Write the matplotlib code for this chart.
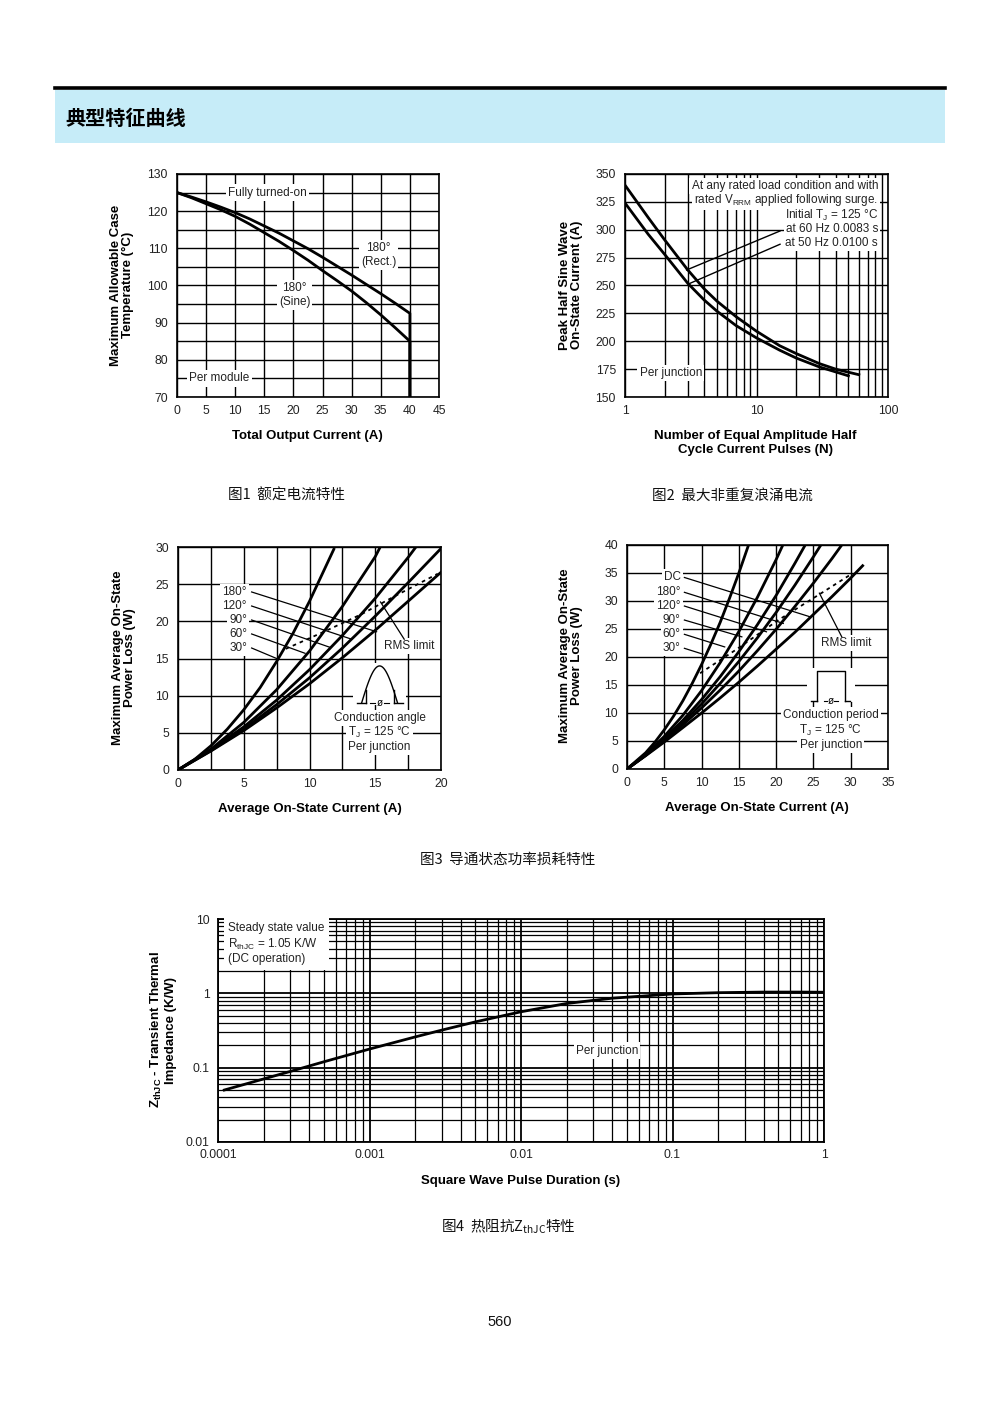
import numpy as np
import matplotlib
matplotlib.use('Agg')
import matplotlib.pyplot as plt
from matplotlib.patches import Rectangle
from matplotlib.lines import Line2D

plt.rcParams['font.family'] = ['Liberation Sans', 'Noto Sans CJK SC', 'DejaVu Sans']
plt.rcParams['mathtext.fontset'] = 'custom'
plt.rcParams['mathtext.rm'] = 'Liberation Sans'
plt.rcParams['mathtext.it'] = 'Liberation Sans:italic'
plt.rcParams['mathtext.bf'] = 'Liberation Sans:bold'

# ---------------- data ----------------
# Fig 1: max allowable case temperature vs total output current
fig1_current = [0, 2.5, 5, 7.5, 10, 12.5, 15, 17.5, 20, 22.5, 25, 27.5, 30, 32.5, 35, 37.5, 40, 40]
fig1_rect = [125, 123.8, 122.5, 121.1, 119.6, 117.9, 116, 114.1, 112, 109.9, 107.6, 105.2,
             102.8, 100.3, 97.8, 95.2, 92.5, 70]
fig1_sine = [125, 123.6, 122, 120.4, 118.6, 116.5, 114.2, 111.9, 109.4, 106.8, 104, 101.3,
             98.5, 95.4, 92.1, 88.6, 85, 70]

# Fig 2: surge current vs number of pulses
fig2_n_60hz = [1, 1.5, 2, 3, 4, 5, 7, 10, 15, 20, 30, 40, 60]
fig2_i_60hz = [340, 311, 291, 264, 247, 236, 222, 209, 196, 189, 180, 175, 170]
fig2_n_50hz = [1, 1.5, 2, 3, 4, 5, 7, 10, 15, 20, 30, 50]
fig2_i_50hz = [324, 296, 278, 252, 237, 227, 214, 203, 192, 185, 177, 169]

# Fig 3: on-state power loss, sine (conduction angle)
fig3_labels = ['180°', '120°', '90°', '60°', '30°']
fig3_i = {
    '30°': [0, 1.25, 2.5, 3.75, 5, 6.25, 7.5, 8.75, 10, 11.85],
    '60°': [0, 2.5, 5, 7.5, 10, 12.5, 15, 15.35],
    '90°': [0, 2.5, 5, 7.5, 10, 12.5, 15, 17.5, 18.05],
    '120°': [0, 2.5, 5, 7.5, 10, 12.5, 15, 17.5, 20],
    '180°': [0, 2.5, 5, 7.5, 10, 12.5, 15, 17.5, 20],
}
fig3_p = {
    '30°': [0, 1.4, 3.25, 5.5, 8.1, 11.1, 14.6, 18.4, 22.7, 29.7],
    '60°': [0, 2.8, 6.4, 10.8, 16.0, 22.0, 28.7, 29.9],
    '90°': [0, 2.7, 5.8, 9.4, 13.5, 18.1, 23.1, 28.6, 29.9],
    '120°': [0, 2.6, 5.5, 8.8, 12.4, 16.4, 20.7, 25.2, 29.8],
    '180°': [0, 2.55, 5.3, 8.35, 11.6, 15.1, 18.8, 22.7, 26.6],
}
fig3_rms_i = [8.2, 11.1, 14.0, 16.5, 19.75]
fig3_rms_p = [16.3, 18.6, 21.0, 23.4, 26.4]

# Fig 4: on-state power loss, rectangular (conduction period)
fig4_labels = ['DC', '180°', '120°', '90°', '60°', '30°']
fig4_i = {
    '30°': [0, 2.5, 3.75, 5, 6.25, 7.5, 8.75, 10, 11.25, 12.5, 13.75, 15, 16.3],
    '60°': [0, 2.5, 5, 7.5, 10, 12.5, 15, 17.5, 20, 20.9],
    '90°': [0, 2.5, 5, 7.5, 10, 12.5, 15, 17.5, 20, 22.5, 23.9],
    '120°': [0, 2.5, 5, 7.5, 10, 12.5, 15, 17.5, 20, 22.5, 25, 26.0],
    '180°': [0, 2.5, 5, 7.5, 10, 12.5, 15, 17.5, 20, 22.5, 25, 27.5, 28.8],
    'DC': [0, 2.5, 5, 7.5, 10, 12.5, 15, 17.5, 20, 22.5, 25, 27.5, 30, 31.6],
}
fig4_p = {
    '30°': [0, 2.9, 4.8, 7.0, 9.45, 12.2, 15.3, 18.65, 22.3, 26.2, 30.5, 35.0, 40.0],
    '60°': [0, 2.62, 5.83, 9.6, 14.0, 19.0, 24.55, 30.7, 37.4, 40.0],
    '90°': [0, 2.52, 5.43, 8.7, 12.4, 16.5, 20.95, 25.8, 31.0, 36.7, 40.0],
    '120°': [0, 2.47, 5.24, 8.3, 11.6, 15.3, 19.2, 23.45, 27.96, 32.8, 37.9, 40.0],
    '180°': [0, 2.43, 5.05, 7.9, 10.9, 14.1, 17.5, 21.15, 24.96, 29.0, 33.2, 37.6, 40.0],
    'DC': [0, 2.37, 4.82, 7.4, 10.0, 12.7, 15.5, 18.4, 21.4, 24.4, 27.6, 30.8, 34.1, 36.3],
}
fig4_rms_i = [9.8, 14.5, 20.3, 25.7, 30.2]
fig4_rms_p = [17.1, 21.2, 26.6, 31.1, 34.9]

# Fig 5: transient thermal impedance
fig5_t = [1.1e-4, 2e-4, 3e-4, 5e-4, 1e-3, 2e-3, 3e-3, 5e-3, 1e-2, 2e-2, 4e-2, 0.1, 0.2, 0.4, 0.7, 1.0]
fig5_z = [0.05, 0.0705, 0.089, 0.12, 0.178, 0.259, 0.32, 0.413, 0.565, 0.73, 0.86, 0.98, 1.02,
          1.04, 1.04, 1.035]

# ---------------- figure ----------------
W, H = 1000, 1414
fig = plt.figure(figsize=(10, 14.14), dpi=100)
fig.patch.set_facecolor('white')


def fx(px):
    return px / W


def fy(py):
    return 1 - py / H


def add_ax(l, r, t, b):
    return fig.add_axes([fx(l), fy(b), fx(r) - fx(l), (b - t) / H])


TICK_FS = 8.7
LAB_FS = 9.5
TXT_FS = 8.5
CURVE_LW = 2.0
GRID_LW = 1.0
TXT_C = '#222222'


def style(ax):
    for s in ax.spines.values():
        s.set_linewidth(1.2)
        s.set_color('black')
    ax.tick_params(which='both', length=0, labelsize=TICK_FS, colors=TXT_C)
    ax.tick_params(axis='y', pad=6.5)
    ax.tick_params(axis='x', pad=5.5)
    ax.set_axisbelow(True)
    ax.grid(which='both', color='black', linewidth=GRID_LW)


def note(ax, x, y, s, ha='center', pad=1.5, **kw):
    # white backing box (drawn first) then the text itself on top
    ax.text(x, y, s, fontsize=TXT_FS, ha=ha, va='center', color='none', zorder=2.9,
            bbox=dict(facecolor='white', edgecolor='none', pad=pad), **kw)
    ax.text(x, y, s, fontsize=TXT_FS, ha=ha, va='center', color=TXT_C, zorder=3.1, **kw)


# header
fig.add_artist(Rectangle((fx(55), fy(143)), fx(945) - fx(55), (143 - 90) / H,
                         transform=fig.transFigure, facecolor='#C6ECF8', edgecolor='none'))
fig.add_artist(Line2D([fx(55), fx(945)], [fy(88), fy(88)], transform=fig.transFigure,
                      color='black', linewidth=2.6))
fig.text(fx(65), fy(118), '典型特征曲线', family=['Noto Sans CJK SC'], fontsize=14.5,
         fontweight='bold', ha='left', va='center')

# ---------------- Fig 1 ----------------
ax1 = add_ax(177, 439, 174, 397)
style(ax1)
ax1.set_xlim(0, 45)
ax1.set_ylim(70, 130)
ax1.set_xticks(range(0, 46, 5))
ax1.set_yticks(range(70, 131, 10))
ax1.set_yticks(range(75, 130, 10), minor=True)
ax1.plot(fig1_current, fig1_rect, color='black', lw=CURVE_LW, zorder=4)
ax1.plot(fig1_current, fig1_sine, color='black', lw=CURVE_LW, zorder=4)
note(ax1, 15.6, 125, 'Fully turned-on')
note(ax1, 7.3, 75, 'Per module')
note(ax1, 34.6, 108.2, '180°\n(Rect.)', linespacing=1.25)
note(ax1, 20.2, 97.5, '180°\n(Sine)', linespacing=1.25)
fig.text(fx(307), fy(436), 'Total Output Current (A)', fontsize=LAB_FS, fontweight='bold',
         ha='center', va='center')
fig.text(fx(122), fy(285), 'Maximum Allowable Case\nTemperature (°C)', fontsize=LAB_FS,
         fontweight='bold', ha='center', va='center', rotation=90, linespacing=1.1)

# ---------------- Fig 2 ----------------
ax2 = add_ax(625, 888, 174, 397)
style(ax2)
ax2.set_xscale('log')
ax2.set_xlim(1, 100)
ax2.set_ylim(150, 350)
ax2.set_xticks([1, 10, 100])
ax2.set_xticklabels(['1', '10', '100'])
ax2.set_xticks([k * d for d in (1, 10) for k in range(2, 10)], minor=True)
ax2.xaxis.set_minor_formatter(matplotlib.ticker.NullFormatter())
ax2.set_yticks(range(150, 351, 25))
ax2.plot(fig2_n_60hz, fig2_i_60hz, color='black', lw=CURVE_LW, zorder=4)
ax2.plot(fig2_n_50hz, fig2_i_50hz, color='black', lw=CURVE_LW, zorder=4)
note(ax2, 84, 339.2, 'At any rated load condition and with', ha='right')
note(ax2, 84, 326.7, 'rated V$_{\\rm RRM}$ applied following surge.', ha='right')
note(ax2, 84, 313.2, 'Initial T$_{\\rm J}$ = 125 °C', ha='right')
note(ax2, 84, 300.7, 'at 60 Hz 0.0083 s', ha='right')
note(ax2, 84, 288.1, 'at 50 Hz 0.0100 s', ha='right')
ax2.plot([15.1, 2.94], [298.9, 263.9], color='black', lw=1.0, zorder=3)
ax2.plot([15.1, 3.03], [287.0, 251.3], color='black', lw=1.0, zorder=3)
note(ax2, 2.23, 171.2, 'Per junction')
fig.text(fx(755), fy(443), 'Number of Equal Amplitude Half\nCycle Current Pulses (N)', fontsize=LAB_FS,
         fontweight='bold', ha='center', va='center', linespacing=1.2)
fig.text(fx(571), fy(285), 'Peak Half Sine Wave\nOn-State Current (A)', fontsize=LAB_FS,
         fontweight='bold', ha='center', va='center', rotation=90, linespacing=1.1)

# ---------------- Fig 3 ----------------
ax3 = add_ax(178, 441, 547, 770)
style(ax3)
ax3.set_xlim(0, 20)
ax3.set_ylim(0, 30)
ax3.set_xticks(range(0, 21, 5))
ax3.set_xticks([2.5, 7.5, 12.5, 17.5], minor=True)
ax3.set_yticks(range(0, 31, 5))
for lab in fig3_labels:
    ax3.plot(fig3_i[lab], fig3_p[lab], color='black', lw=CURVE_LW, zorder=4)
ax3.plot(fig3_rms_i, fig3_rms_p, color='black', lw=1.3, ls=(0, (2, 2.2)), zorder=4)
fig3_label_p = [23.95, 22.06, 20.18, 18.30, 16.41]
fig3_end_i = [15.1, 13.2, 11.56, 9.66, 7.5]
fig3_end_p = [18.6, 17.6, 16.5, 15.7, 15.0]
for lab, lp, ei, ep in zip(fig3_labels, fig3_label_p, fig3_end_i, fig3_end_p):
    note(ax3, 5.25, lp, lab, ha='right')
    ax3.plot([5.6, ei], [lp, ep], color='black', lw=0.9, zorder=3)
note(ax3, 17.6, 16.7, 'RMS limit')
ax3.plot([17.2, 15.4], [17.6, 22.6], color='black', lw=0.9, zorder=3)
# conduction angle icon (decoration)
cx, base, top, half = 15.33, 9.0, 14.0, 1.37
ax3.add_patch(Rectangle((cx - 2.0, base - 0.2), 4.0, top - base + 0.6, facecolor='white',
                        edgecolor='none', zorder=2.9))
th = np.linspace(0, np.pi, 60)
ax3.plot(cx - half + 2 * half * th / np.pi, base + (top - base) * np.sin(th), color='black', lw=1.0, zorder=4)
for sx in (-1, 1):
    xv = cx + sx * 1.06
    ax3.plot([xv, xv], [base, base + (top - base) * np.sin(np.pi * (half - 1.06) / (2 * half))],
             color='black', lw=1.0, zorder=4)
    ax3.plot([xv, cx + sx * 1.75], [base, base], color='black', lw=1.0, zorder=4)
    ax3.plot([cx + sx * 0.35, cx + sx * 0.7], [base, base], color='black', lw=0.8, zorder=4)
ax3.text(cx, base, 'ø', fontsize=7, ha='center', va='center', zorder=5)
note(ax3, cx, 7.0, 'Conduction angle')
note(ax3, cx, 5.0, 'T$_{\\rm J}$ = 125 °C')
note(ax3, cx, 3.1, 'Per junction')
fig.text(fx(310), fy(809), 'Average On-State Current (A)', fontsize=LAB_FS, fontweight='bold',
         ha='center', va='center')
fig.text(fx(124), fy(658), 'Maximum Average On-State\nPower Loss (W)', fontsize=LAB_FS,
         fontweight='bold', ha='center', va='center', rotation=90, linespacing=1.1)

# ---------------- Fig 4 ----------------
ax4 = add_ax(627, 888, 545, 769)
style(ax4)
ax4.set_xlim(0, 35)
ax4.set_ylim(0, 40)
ax4.set_xticks(range(0, 36, 5))
ax4.set_yticks(range(0, 41, 5))
for lab in fig4_labels:
    ax4.plot(fig4_i[lab], fig4_p[lab], color='black', lw=CURVE_LW, zorder=4)
ax4.plot(fig4_rms_i, fig4_rms_p, color='black', lw=1.3, ls=(0, (2, 2.2)), zorder=4)
fig4_label_p = [34.2, 31.55, 29.1, 26.6, 24.05, 21.55]
fig4_end_i = [24.5, 20.96, 18.7, 15.4, 13.1, 10.2]
fig4_end_p = [27.2, 26.0, 24.5, 23.6, 21.8, 20.5]
for lab, lp, ei, ep in zip(fig4_labels, fig4_label_p, fig4_end_i, fig4_end_p):
    note(ax4, 7.2, lp, lab, ha='right')
    ax4.plot([7.7, ei], [lp, ep], color='black', lw=0.9, zorder=3)
note(ax4, 29.4, 22.5, 'RMS limit')
ax4.plot([28.8, 25.8], [23.6, 31.4], color='black', lw=0.9, zorder=3)
# conduction period icon (decoration)
cx, base, top = 27.33, 12.2, 17.55
ax4.add_patch(Rectangle((cx - 3.2, base - 0.3), 6.4, top - base + 0.8, facecolor='white',
                        edgecolor='none', zorder=2.9))
ax4.plot([cx - 1.85, cx - 1.85, cx + 1.85, cx + 1.85], [base, top, top, base], color='black', lw=1.0, zorder=4)
for sx in (-1, 1):
    ax4.plot([cx + sx * 1.85, cx + sx * 2.6], [base, base], color='black', lw=1.0, zorder=4)
    ax4.plot([cx + sx * 0.45, cx + sx * 0.95], [base, base], color='black', lw=0.8, zorder=4)
ax4.text(cx, base, 'ø', fontsize=7, ha='center', va='center', zorder=5)
note(ax4, cx, 9.6, 'Conduction period')
note(ax4, cx, 6.8, 'T$_{\\rm J}$ = 125 °C')
note(ax4, cx, 4.3, 'Per junction')
fig.text(fx(757), fy(808), 'Average On-State Current (A)', fontsize=LAB_FS, fontweight='bold',
         ha='center', va='center')
fig.text(fx(571), fy(656), 'Maximum Average On-State\nPower Loss (W)', fontsize=LAB_FS,
         fontweight='bold', ha='center', va='center', rotation=90, linespacing=1.1)

# ---------------- Fig 5 ----------------
ax5 = add_ax(218, 824, 919, 1142)
for s in ax5.spines.values():
    s.set_linewidth(1.3)
ax5.set_xscale('log')
ax5.set_yscale('log')
ax5.set_xlim(1e-4, 1)
ax5.set_ylim(0.01, 10)
ax5.set_xticks([1e-4, 1e-3, 1e-2, 1e-1, 1])
ax5.set_xticklabels(['0.0001', '0.001', '0.01', '0.1', '1'])
ax5.set_yticks([0.01, 0.1, 1, 10])
ax5.set_yticklabels(['0.01', '0.1', '1', '10'])
ax5.set_xticks([k * 10.0 ** e for e in range(-4, 0) for k in range(2, 10)], minor=True)
ax5.set_yticks([k * 10.0 ** e for e in range(-2, 1) for k in range(2, 10)], minor=True)
ax5.xaxis.set_minor_formatter(matplotlib.ticker.NullFormatter())
ax5.yaxis.set_minor_formatter(matplotlib.ticker.NullFormatter())
ax5.tick_params(which='both', length=0, labelsize=TICK_FS, colors=TXT_C)
ax5.tick_params(axis='y', pad=6)
ax5.tick_params(axis='x', pad=5)
ax5.set_axisbelow(True)
ax5.grid(which='major', color='black', linewidth=1.3)
ax5.grid(which='minor', color='black', linewidth=0.9)
ax5.plot(fig5_t, fig5_z, color='black', lw=CURVE_LW, zorder=4)
ax5.text(0.0166, 0.985, 'Steady state value\nR$_{\\rm thJC}$ = 1.05 K/W\n(DC operation)',
         transform=ax5.transAxes, fontsize=TXT_FS, ha='left', va='top', color=TXT_C,
         linespacing=1.2, bbox=dict(facecolor='white', edgecolor='none', pad=3.0))
note(ax5, 0.037, 0.17, 'Per junction')
fig.text(fx(521), fy(1181), 'Square Wave Pulse Duration (s)', fontsize=LAB_FS, fontweight='bold',
         ha='center', va='center')
fig.text(fx(163), fy(1030), 'Z$_{\\mathbf{thJC}}$ - Transient Thermal\nImpedance (K/W)', fontsize=LAB_FS,
         fontweight='bold', ha='center', va='center', rotation=90, linespacing=1.1)

# ---------------- captions ----------------
CAP = dict(family=['Noto Sans CJK SC'], fontsize=10.5, ha='center', va='center', color='#111111')
fig.text(fx(287), fy(496), '图1  额定电流特性', **CAP)
fig.text(fx(732), fy(496), '图2  最大非重复浪涌电流', **CAP)
fig.text(fx(508), fy(860), '图3  导通状态功率损耗特性', **CAP)
fig.text(fx(508), fy(1226), '图4  热阻抗Z$_{\\mathregular{thJC}}$特性', **CAP)
fig.text(fx(500), fy(1322), '560', fontsize=10.5, ha='center', va='center', color='#111111')

fig.savefig('out.png', dpi=100, facecolor='white')
